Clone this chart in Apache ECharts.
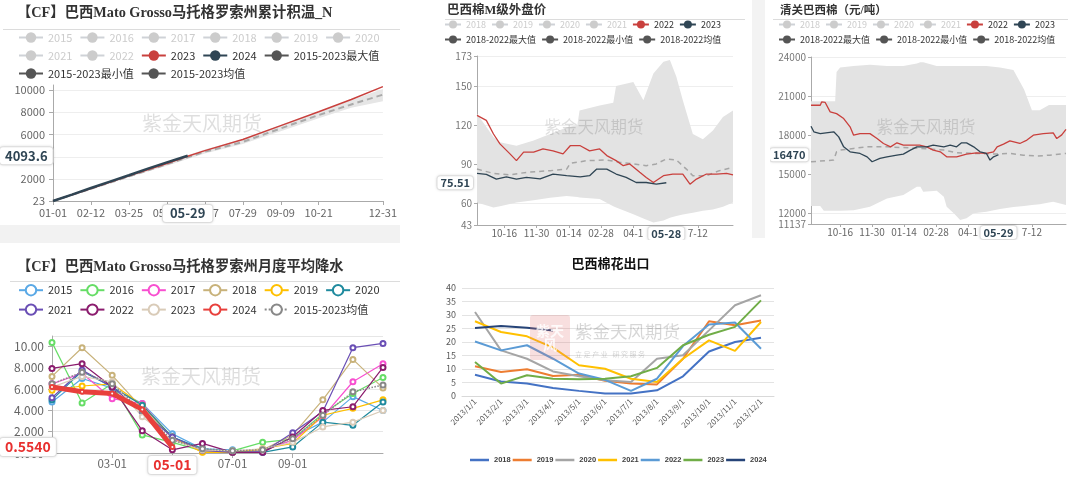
<!DOCTYPE html>
<html><head><meta charset="utf-8">
<script src="https://cdn.jsdelivr.net/npm/echarts@6.0.0/dist/echarts.min.js"></script>
<style>
html,body{margin:0;padding:0;background:#fff}
body{width:1080px;height:477px;position:relative;overflow:hidden}
.p{position:absolute}
</style></head><body>
<div id="c1" class="p" style="left:0;top:0;width:400px;height:225px"></div>
<div class="p" style="left:0;top:225px;width:400px;height:18px;background:#f2f2f2"></div>
<div class="p" style="left:752px;top:0;width:13px;height:238px;background:#f3f3f3"></div>
<div id="c2" class="p" style="left:400px;top:0;width:352px;height:240px"></div>
<div id="c3" class="p" style="left:770px;top:0;width:310px;height:240px"></div>
<div id="c4" class="p" style="left:0;top:243px;width:400px;height:234px"></div>
<div id="c5" class="p" style="left:430px;top:248px;width:350px;height:229px"></div>
<script>
// ---------- Panel 1: accumulated heat (day of year, leap year) ----------
const heatTitle = '【CF】巴西Mato Grosso马托格罗索州累计积温_N';
const heatInactive = ['2015','2016','2017','2018','2019','2020','2021','2022'];
const heatDays = [0,42,84,126,149,168,210,252,294,330,365];
const heat2023 = [23,1150,2280,3400,4050,4550,5550,6800,8050,9150,10300];
const heatDays2024 = [0,21,42,63,84,105,126,149];
const heat2024 = [23,600,1190,1770,2340,2930,3490,4093.6];
const heatBandDays = [0,42,84,126,168,210,252,294,330,365];
const heatMax = [23,1200,2350,3500,4650,5600,6850,8050,9100,10080];
const heatMin = [23,1050,2150,3200,4300,5150,6300,7450,8400,9000];
const heatMean = [23,1120,2230,3330,4450,5330,6550,7750,8700,9580];
const heatTickDays = [0,42,84,126,168,210,252,294,365];
const heatTickLabels = ['01-01','02-12','03-25','05-06','06-17','07-29','09-09','10-21','12-31'];
const heatYTicks = [23,2000,4000,6000,8000,10000];
const heatPointerDay = 149, heatPointerLabel = '05-29', heatPointerValue = 4093.6;

// ---------- Panel 2: Brazil M grade offshore price (season day index) ----------
const mTitle = '巴西棉M级外盘价';
const mTickDays = [38,83,128,173,218,263,308];
const mTickLabels = ['10-16','11-30','01-14','02-28','04-1','05-28','7-12'];
const mYTicks = [43,60,90,120,150,173];
const mBandDays = [0,23,32,55,79,102,125,140,143,171,190,194,218,232,246,260,269,278,287,301,315,329,343,357];
const mBandMax = [128.5,110.6,106.7,104,108,113,118,120,131,135,137,150,153,139,159.6,168.6,170,157,139,113,109,115.7,126,131];
const mBandMin = [60.3,56.4,57.5,60.3,62,64,65.4,64.5,64.2,63,57.5,56.4,51.2,48,45,46.5,48.6,50,51,52.5,54,55,57,60.3];
const mRedDays = [0,13,23,32,46,55,65,79,92,106,120,130,144,157,171,181,194,204,213,227,236,246,260,273,287,297,306,320,334,348,357];
const mRed = [127.3,123.5,113,105.4,97.7,92.5,99,99,101.5,100,97.7,104,104,100,101.5,96.4,92.5,88.6,90,83.5,79.6,75.7,80.9,82.2,82.2,74.4,78.3,82.2,82.2,82.7,81.6];
const mDarkDays = [0,13,27,41,55,69,88,106,125,144,157,167,181,194,208,222,236,250,264];
const mDark = [82.7,82,78.3,80,78.3,79.6,78.5,82.2,81,80,80.9,86,86,82.2,79.6,75.7,75.7,74.4,75.51];
const mMeanDays = [0,23,46,69,102,125,130,153,181,199,218,236,250,264,278,292,301,320,338,357];
const mMean = [86,82.7,81.6,83.5,84.8,86,90.4,92.5,93,91.2,90,88.6,90,93.8,93,86,80.9,80.9,84.8,87.3];
const mPointerDay = 264, mPointerLabel = '05-28', mPointerValue = 75.51;

// ---------- Panel 3: customs-cleared Brazil cotton ----------
const qTitle = '清关巴西棉（元/吨）';
const qTickDays = [41,86,131,176,221,266,311];
const qTickLabels = ['10-16','11-30','01-14','02-28','04-1','05-29','7-12'];
const qYTicks = [11137,12000,15000,18000,21000,24000];
const qBandDays = [0,13,18,34,36,41,60,83,107,130,149,154,158,177,187,191,201,210,219,229,247,266,285,300,311,322,335,341,359];
const qBandMax = [20600,20600,20600,20600,22850,23200,23300,23400,23300,23300,23500,23600,23600,23300,23300,23300,23300,23300,23300,23300,23300,23200,23000,21500,19900,19900,20300,20300,20300];
const qBandMin = [12520,12520,12160,12160,12160,12160,12200,12470,13110,13370,14000,14000,13620,13700,13240,12470,11960,11450,11580,11960,12090,12300,12450,12520,12600,12650,12800,12860,12600];
const qRedDays = [0,13,15,20,27,36,46,55,60,69,83,93,102,112,121,130,153,163,172,182,191,205,219,233,247,257,262,271,280,294,304,313,327,341,346,353,359];
const qRed = [20285,20285,20540,20500,19770,19640,19260,18620,17980,18100,18100,17720,17340,17080,17390,17210,17210,17080,16830,16700,16310,16310,16520,16620,16570,16700,17080,17290,17540,17340,17600,17980,18100,18160,17720,18000,18420];
const qDarkDays = [0,4,13,32,39,46,55,69,79,86,97,107,121,130,140,149,163,172,187,196,205,212,219,229,238,247,252,257,264];
const qDark = [18670,18240,18100,18240,17850,17080,16700,16570,16310,15930,16190,16310,16440,16520,16830,17080,17080,17210,17080,17210,17080,17390,17390,17080,16700,16570,16060,16310,16470];
const qMeanDays = [0,32,36,41,60,79,107,154,187,205,233,262,280,299,318,336,359];
const qMean = [15930,16060,16700,16830,16960,17080,17080,16960,16830,16620,16570,16520,16570,16440,16370,16440,16570];
const qPointerDay = 264, qPointerLabel = '05-29', qPointerValue = 16470;

// ---------- Panel 4: monthly average rainfall ----------
const rainTitle = '【CF】巴西Mato Grosso马托格罗索州月度平均降水';
const rainMonths = ['01-01','02-01','03-01','04-01','05-01','06-01','07-01','08-01','09-01','10-01','11-01','12-01'];
const rainShownLabels = ['03-01','05-01','07-01','09-01'];
const rain2015 = [4.8,7.0,6.1,4.65,1.8,0.4,0.3,0.1,1.5,2.9,5.3,4.0];
const rain2016 = [10.4,4.7,6.5,1.7,1.0,0.2,0.2,1.0,1.3,3.7,5.6,7.1];
const rain2017 = [6.5,7.5,5.1,4.65,1.35,0.3,0.06,0.25,1.2,3.4,6.7,8.4];
const rain2018 = [7.2,9.9,7.3,4.2,1.5,0.1,0.06,0.3,1.7,5.0,8.8,6.1];
const rain2019 = [5.9,6.3,6.5,4.5,1.5,0.06,0.06,0.4,0.9,3.55,4.2,5.0];
const rain2020 = [5.0,7.7,6.2,4.5,1.5,0.4,0.1,0.06,0.57,2.9,2.6,4.8];
const rain2021 = [5.2,7.8,6.2,3.9,1.5,0.25,0.06,0.06,1.9,3.9,9.9,10.3];
const rain2022 = [7.95,8.4,6.2,2.1,0.3,0.9,0.06,0.06,1.5,4.0,4.35,8.05];
const rain2023 = [6.2,7.2,6.7,3.4,1.2,0.3,0.2,0.4,1.0,2.45,2.9,4.0];
const rain2024 = [6.2,5.75,5.6,4.1,0.554];
const rainMean = [6.5,7.6,6.5,4.0,1.2,0.4,0.2,0.3,1.35,3.55,5.75,6.4];
const rainPointerLabel = '05-01', rainPointerValue = 0.554;

// ---------- Panel 5: Brazil cotton exports ----------
const expTitle = '巴西棉花出口';
const expMonths = ['2013/1/1','2013/2/1','2013/3/1','2013/4/1','2013/5/1','2013/6/1','2013/7/1','2013/8/1','2013/9/1','2013/10/1','2013/11/1','2013/12/1'];
const exp2018 = [7.9,5.4,4.6,3.0,1.9,0.9,0.9,2.1,7.3,16.5,20,21.6];
const exp2019 = [11,8.9,9.9,7.4,7.9,5.6,4.6,4.3,13.8,27.7,26.2,28];
const exp2020 = [31.1,16.9,13.8,9.1,7.3,5.8,5.2,13.8,15.1,24.3,33.6,37.3];
const exp2021 = [27.7,23.7,22.1,17.9,11.4,10.1,6.4,5.2,13.8,20.6,16.7,27.4];
const exp2022 = [20.2,16.9,18.8,13.8,8.3,6.0,1.9,6.4,18.5,26.5,27.2,17.5];
const exp2023 = [12.6,4.6,7.7,6.4,6.2,6.4,7.3,10.4,18.8,22.7,25.6,35.4];
const exp2024 = [25.2,25.9,25.3,24.3];

// ---------- helpers ----------
const FONT = "'Noto Sans CJK SC','Noto Sans',sans-serif";
const TFONT = "'Liberation Serif','Noto Sans CJK SC',serif";
const WM = '紫金天风期货';
const pairs = (xs, ys) => xs.map((x, i) => [x, ys[i]]);
const lookup = (keys, labels) => v => { const i = keys.indexOf(Math.round(v)); return i < 0 ? '' : labels[i]; };
const hidden = {color: 'rgba(0,0,0,0)'};
function ptrLabel(fs, color, fmt) {
  return {show: true, formatter: fmt, backgroundColor: '#fff', color: color, fontWeight: 'bold', fontSize: fs,
    fontFamily: FONT, padding: [2, 5], borderRadius: 3, borderColor: '#e6e6e6', borderWidth: 1,
    shadowBlur: 3, shadowColor: 'rgba(0,0,0,0.12)', margin: 4};
}
function darkLegend(name) {
  return {name: name, itemStyle: {color: '#555'}, lineStyle: {color: '#555', type: 'solid', opacity: 1, width: 2}};
}
// min/max envelope drawn as one polygon through the axes' own coordinate mapping
function bandSeries(days, maxs, mins, fill) {
  return {type: 'custom', z: 1, silent: true, clip: true,
    data: days.map((d, i) => [d, mins[i], maxs[i]]), encode: {x: 0, y: [1, 2]},
    renderItem: (params, api) => {
      if (params.dataIndex !== 0) return null;
      const top = days.map((d, i) => api.coord([d, maxs[i]]));
      const bot = days.map((d, i) => api.coord([d, mins[i]])).reverse();
      return {type: 'polygon', shape: {points: top.concat(bot)}, style: {fill: fill}};
    }};
}
function invisibleLine(name, data) {
  return {name: name, type: 'line', symbol: 'circle', showSymbol: false, color: '#555', lineStyle: {width: 0, opacity: 0}, silent: true, data: data};
}

// ================= Panel 1 =================
(function () {
  const ch = echarts.init(document.getElementById('c1'));
  const sel = {}; heatInactive.forEach(n => sel[n] = false);
  ch.setOption({
    animation: false,
    textStyle: {fontFamily: FONT},
    graphic: [
      {type: 'text', left: 17, top: 6, style: {text: heatTitle, font: 'bold 14.3px ' + TFONT, fill: '#333'}},
      {type: 'line', shape: {x1: 3, y1: 29.5, x2: 400, y2: 29.5}, style: {stroke: '#dcdcdc', lineWidth: 1}},
      {type: 'text', x: 202, y: 123, z: 100, style: {text: WM, font: '20px ' + FONT, fill: 'rgba(0,0,0,0.13)', align: 'center', verticalAlign: 'middle'}}
    ],
    legend: {left: 18, top: 32, width: 378, padding: 0, itemWidth: 24, itemHeight: 13, itemGap: 7, inactiveColor: '#ccc',
      textStyle: {fontSize: 11, color: '#333'}, selected: sel,
      data: heatInactive.concat(['2023', '2024']).concat([darkLegend('2015-2023最大值'), darkLegend('2015-2023最小值'), darkLegend('2015-2023均值')])},
    grid: {left: 53, right: 17, top: 85, bottom: 24},
    xAxis: {type: 'value', min: 0, max: 365,
      axisLine: {lineStyle: {color: '#aaa'}}, axisTick: {customValues: heatTickDays, length: 4, lineStyle: {color: '#aaa'}},
      axisLabel: {customValues: heatTickDays, formatter: lookup(heatTickDays, heatTickLabels), color: '#666', fontSize: 11, margin: 6},
      splitLine: {show: false},
      axisPointer: {show: true, status: 'show', value: heatPointerDay, snap: false, type: 'line', lineStyle: hidden,
        label: Object.assign(ptrLabel(13, '#2f4554', () => heatPointerLabel), {padding: [2, 7]})}},
    yAxis: {type: 'value', min: 23, max: 10450,
      axisLine: {show: true, lineStyle: {color: '#aaa'}}, axisTick: {show: true, customValues: heatYTicks, length: 4, lineStyle: {color: '#aaa'}},
      axisLabel: {customValues: heatYTicks, color: '#666', fontSize: 11, formatter: v => String(v)},
      splitLine: {lineStyle: {color: '#eee'}},
      axisPointer: {show: true, status: 'show', value: heatPointerValue, snap: false, type: 'line', lineStyle: hidden,
        label: ptrLabel(13, '#2f4554', p => (+p.value).toFixed(1))}},
    series: heatInactive.map(n => ({name: n, type: 'line', symbol: 'circle', data: []})).concat([
      bandSeries(heatBandDays, heatMax, heatMin, '#e6e6e6'),
      invisibleLine('2015-2023最大值', pairs(heatBandDays, heatMax)),
      invisibleLine('2015-2023最小值', pairs(heatBandDays, heatMin)),
      {name: '2015-2023均值', type: 'line', symbol: 'circle', showSymbol: false, color: '#555', z: 3, lineStyle: {color: '#aaa', type: [6, 4], width: 2}, data: pairs(heatBandDays, heatMean)},
      {name: '2023', type: 'line', symbol: 'circle', showSymbol: false, color: '#c9403d', lineStyle: {width: 1.5}, z: 4, data: pairs(heatDays, heat2023)},
      {name: '2024', type: 'line', symbol: 'circle', showSymbol: false, color: '#2f4554', lineStyle: {width: 2.5}, z: 5, data: pairs(heatDays2024, heat2024)}
    ])
  });
})();

// ================= Panels 2 & 3 =================
function pricePanel(id, cfg) {
  const ch = echarts.init(document.getElementById(id));
  const inactive = ['2018', '2019', '2020', '2021'];
  const sel = {}; inactive.forEach(n => sel[n] = false);
  const lgBase = {padding: 0, width: 340, itemWidth: 16, itemHeight: 10, inactiveColor: '#ccc', textStyle: {fontSize: 9, color: '#333'}};
  ch.setOption({
    animation: false,
    textStyle: {fontFamily: FONT},
    graphic: [
      {type: 'text', left: cfg.titleLeft, top: 5, style: {text: cfg.title, font: 'bold ' + cfg.titleSize + 'px ' + TFONT, fill: '#333'}},
      {type: 'line', shape: {x1: cfg.sepX1, y1: 19.5, x2: cfg.sepX2, y2: 19.5}, style: {stroke: '#dcdcdc', lineWidth: 1}},
      {type: 'text', x: cfg.wmX, y: 127, z: 100, style: {text: WM, font: '16.5px ' + FONT, fill: 'rgba(0,0,0,0.13)', align: 'center', verticalAlign: 'middle'}}
    ],
    legend: [
      Object.assign({left: cfg.legendLeft, top: 20, itemGap: 5, selected: sel, data: inactive.concat(['2022', '2023'])}, lgBase),
      Object.assign({left: cfg.legendLeft, top: 35, itemGap: 5, data: [darkLegend('2018-2022最大值'), darkLegend('2018-2022最小值'), darkLegend('2018-2022均值')]}, lgBase)
    ],
    grid: cfg.grid,
    xAxis: {type: 'value', min: 0, max: cfg.xMax,
      axisLine: {lineStyle: {color: '#aaa'}}, axisTick: {customValues: cfg.tickDays, length: 3, lineStyle: {color: '#aaa'}},
      axisLabel: {customValues: cfg.tickDays, formatter: lookup(cfg.tickDays, cfg.tickLabels), color: '#666', fontSize: 10, margin: 3},
      splitLine: {show: false},
      axisPointer: {show: true, status: 'show', value: cfg.pDay, snap: false, type: 'line', lineStyle: hidden,
        label: Object.assign(ptrLabel(11, '#2f4554', () => cfg.pLabel), {margin: 2, padding: [1, 3]})}},
    yAxis: {type: 'value', min: cfg.yTicks[0], max: cfg.yTicks[cfg.yTicks.length - 1],
      axisLine: {show: true, lineStyle: {color: '#aaa'}}, axisTick: {show: true, customValues: cfg.yTicks, length: 3, lineStyle: {color: '#aaa'}},
      axisLabel: {customValues: cfg.yTicks, color: '#777', fontSize: 10, margin: 5, formatter: v => String(v)},
      splitLine: {lineStyle: {color: '#eee'}},
      axisPointer: {show: true, status: 'show', value: cfg.pValue, snap: false, type: 'line', lineStyle: hidden,
        label: Object.assign(ptrLabel(11, '#2f4554', p => cfg.pFmt(p.value)), {padding: [1, 3]})}},
    series: inactive.map(n => ({name: n, type: 'line', symbol: 'circle', data: []})).concat([
      bandSeries(cfg.bandDays, cfg.bandMax, cfg.bandMin, '#e3e3e3'),
      invisibleLine('2018-2022最大值', pairs(cfg.bandDays, cfg.bandMax)),
      invisibleLine('2018-2022最小值', pairs(cfg.bandDays, cfg.bandMin)),
      {name: '2018-2022均值', type: 'line', symbol: 'circle', showSymbol: false, color: '#555', z: 3, lineStyle: {color: '#a6a6a6', type: [5, 4], width: 1.5}, data: pairs(cfg.meanDays, cfg.mean)},
      {name: '2022', type: 'line', symbol: 'circle', showSymbol: false, color: '#c9403d', lineStyle: {width: 1.3}, z: 4, data: pairs(cfg.redDays, cfg.red)},
      {name: '2023', type: 'line', symbol: 'circle', showSymbol: false, color: '#2f4554', lineStyle: {width: 1.3}, z: 5, data: pairs(cfg.darkDays, cfg.dark)}
    ])
  });
}
pricePanel('c2', {title: mTitle, titleLeft: 47, titleSize: 12.5, sepX1: 45, sepX2: 345, wmX: 194, legendLeft: 44,
  grid: {left: 77, right: 19, top: 56, bottom: 15}, xMax: 357, tickDays: mTickDays, tickLabels: mTickLabels, yTicks: mYTicks,
  pDay: mPointerDay, pLabel: mPointerLabel, pValue: mPointerValue, pFmt: v => (+v).toFixed(2),
  bandDays: mBandDays, bandMax: mBandMax, bandMin: mBandMin, meanDays: mMeanDays, mean: mMean,
  redDays: mRedDays, red: mRed, darkDays: mDarkDays, dark: mDark});
pricePanel('c3', {title: qTitle, titleLeft: 10, titleSize: 11.5, sepX1: 3, sepX2: 298, wmX: 156, legendLeft: 8,
  grid: {left: 41, right: 14, top: 57, bottom: 16}, xMax: 359, tickDays: qTickDays, tickLabels: qTickLabels, yTicks: qYTicks,
  pDay: qPointerDay, pLabel: qPointerLabel, pValue: qPointerValue, pFmt: v => String(Math.round(v)),
  bandDays: qBandDays, bandMax: qBandMax, bandMin: qBandMin, meanDays: qMeanDays, mean: qMean,
  redDays: qRedDays, red: qRed, darkDays: qDarkDays, dark: qDark});

// ================= Panel 4 =================
(function () {
  const ch = echarts.init(document.getElementById('c4'));
  const defs = [
    ['2015', rain2015, '#5aa9e6'], ['2016', rain2016, '#66dd66'], ['2017', rain2017, '#f84fd0'],
    ['2018', rain2018, '#c8b27a'], ['2019', rain2019, '#ffc000'], ['2020', rain2020, '#1f8a9e'],
    ['2021', rain2021, '#6a4fb5'], ['2022', rain2022, '#8b1c6e'], ['2023', rain2023, '#d9cbb8'],
    ['2024', rain2024, '#e8403c'], ['2015-2023均值', rainMean, '#888']
  ];
  const shownIdx = rainShownLabels.map(l => rainMonths.indexOf(l));
  ch.setOption({
    animation: false,
    textStyle: {fontFamily: FONT},
    graphic: [
      {type: 'text', left: 17, top: 17, style: {text: rainTitle, font: 'bold 14.3px ' + TFONT, fill: '#333'}},
      {type: 'line', shape: {x1: 10, y1: 38.5, x2: 400, y2: 38.5}, style: {stroke: '#dcdcdc', lineWidth: 1}},
      {type: 'text', x: 201, y: 133, z: 100, style: {text: WM, font: '20px ' + FONT, fill: 'rgba(0,0,0,0.13)', align: 'center', verticalAlign: 'middle'}}
    ],
    legend: {left: 18, top: 41, width: 378, padding: 0, itemWidth: 24, itemHeight: 13, itemGap: 7, textStyle: {fontSize: 11, color: '#333'},
      data: defs.map(d => d[0])},
    grid: {left: 52, right: 17, top: 93, bottom: 24},
    xAxis: {type: 'category', boundaryGap: false, data: rainMonths,
      axisLine: {lineStyle: {color: '#aaa'}},
      axisTick: {interval: (i) => shownIdx.includes(i), length: 5, lineStyle: {color: '#aaa'}},
      axisLabel: {interval: (i) => shownIdx.includes(i), color: '#666', fontSize: 11.5, margin: 5},
      axisPointer: {show: true, status: 'show', value: rainPointerLabel, snap: false, type: 'line', lineStyle: hidden,
        label: Object.assign(ptrLabel(14, '#e8302f', () => rainPointerLabel), {margin: 3})}},
    yAxis: {type: 'value', min: 0, max: 11, interval: 2,
      axisLine: {show: true, lineStyle: {color: '#aaa'}}, axisTick: {show: true, length: 4, lineStyle: {color: '#aaa'}},
      axisLabel: {color: '#666', fontSize: 12, showMaxLabel: false, formatter: v => (+v).toPrecision(4)},
      splitLine: {lineStyle: {color: '#e6e6e6'}},
      axisPointer: {show: true, status: 'show', value: rainPointerValue, snap: false, type: 'line', lineStyle: hidden,
        label: ptrLabel(14, '#e8302f', p => (+p.value).toFixed(4))}},
    series: defs.map(d => {
      const s = {name: d[0], type: 'line', data: d[1], color: d[2], symbol: 'emptyCircle', symbolSize: 5, lineStyle: {width: 1.2}};
      if (d[0] === '2024') { s.lineStyle = {width: 5}; s.symbolSize = 4; s.z = 10; }
      if (d[0] === '2015-2023均值') { s.lineStyle = {width: 1.5, type: 'dotted'}; }
      return s;
    })
  });
})();

// ================= Panel 5 =================
(function () {
  const ch = echarts.init(document.getElementById('c5'));
  const defs = [['2018', exp2018, '#4472c4'], ['2019', exp2019, '#ed7d31'], ['2020', exp2020, '#a5a5a5'], ['2021', exp2021, '#ffc000'],
    ['2022', exp2022, '#5b9bd5'], ['2023', exp2023, '#70ad47'], ['2024', exp2024, '#264478']];
  ch.setOption({
    animation: false,
    textStyle: {fontFamily: FONT},
    graphic: [
      {type: 'text', x: 180.5, y: 15, style: {text: expTitle, font: 'bold 13px ' + FONT, fill: '#111', align: 'center', verticalAlign: 'middle'}},
      {type: 'rect', shape: {x: 100, y: 67, width: 40, height: 45, r: 3}, style: {fill: 'rgba(225,110,110,0.22)'}, z: 100},
      {type: 'text', x: 120, y: 89.5, z: 101, style: {text: '紫天\n风', font: 'bold 14px ' + FONT, fill: 'rgba(255,255,255,0.85)', align: 'center', verticalAlign: 'middle'}},
      {type: 'text', x: 145, y: 83, z: 100, style: {text: WM, font: '17.5px ' + FONT, fill: 'rgba(0,0,0,0.16)', verticalAlign: 'middle'}},
      {type: 'text', x: 145, y: 106, z: 100, style: {text: '立 足 产 业   研 究 服 务', font: '7px ' + FONT, fill: 'rgba(0,0,0,0.18)', verticalAlign: 'middle'}}
    ],
    legend: {left: 40, top: 208, width: 320, padding: 0, icon: 'rect', itemWidth: 19, itemHeight: 2.5, itemGap: 2,
      textStyle: {fontSize: 7.5, fontWeight: 'bold', fontFamily: "'Liberation Sans',sans-serif", color: '#404040'}, data: defs.map(d => d[0])},
    grid: {left: 32, right: 6, top: 40, bottom: 81},
    xAxis: {type: 'category', boundaryGap: true, data: expMonths,
      axisLine: {lineStyle: {color: '#d9d9d9'}}, axisTick: {show: false},
      axisLabel: {interval: 0, rotate: 45, color: '#595959', fontSize: 8, margin: 4}},
    yAxis: {type: 'value', min: 0, max: 40, interval: 5,
      axisLine: {show: false}, axisTick: {show: false},
      axisLabel: {color: '#595959', fontSize: 9, margin: 6},
      splitLine: {lineStyle: {color: '#e3e3e3'}}},
    series: defs.map(d => ({name: d[0], type: 'line', data: d[1], color: d[2], symbol: 'none', lineStyle: {width: 2}}))
  });
})();
</script>
</body></html>
